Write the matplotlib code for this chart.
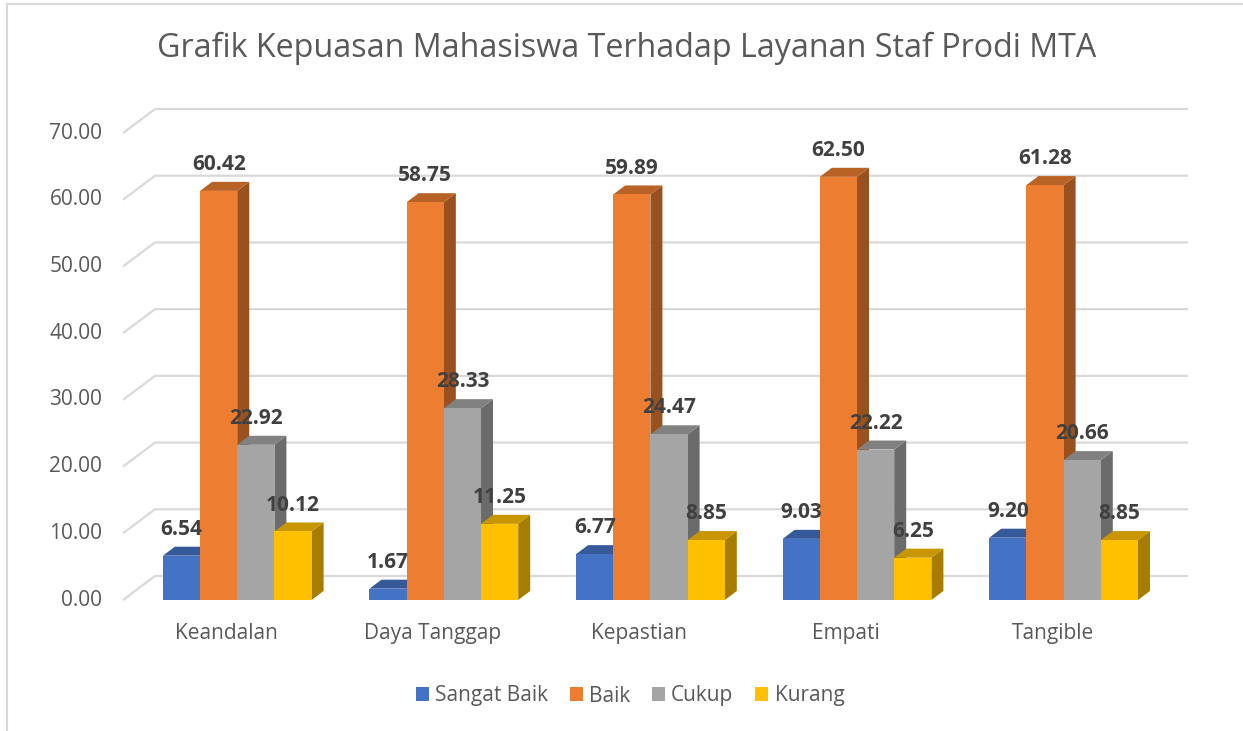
import matplotlib.pyplot as plt
from matplotlib.patches import Polygon, Patch
from matplotlib.colors import to_rgb

plt.rcParams['font.family'] = ['Open Sans', 'DejaVu Sans']

categories = ['Keandalan', 'Daya Tanggap', 'Kepastian', 'Empati', 'Tangible']
series = ['Sangat Baik', 'Baik', 'Cukup', 'Kurang']
sangat_baik = [6.54, 1.67, 6.77, 9.03, 9.20]
baik = [60.42, 58.75, 59.89, 62.50, 61.28]
cukup = [22.92, 28.33, 24.47, 22.22, 20.66]
kurang = [10.12, 11.25, 8.85, 6.25, 8.85]
yticks = [0, 10, 20, 30, 40, 50, 60, 70]

colors = ['#4472C4', '#ED7D31', '#A5A5A5', '#FFC000']
values = [sangat_baik, baik, cukup, kurang]

W, H = 1243, 731
fig = plt.figure(figsize=(W / 100, H / 100), dpi=100)

# depth of the floor / back wall and of each bar (in data units)
floor_dx, floor_dy = 0.155, 3.6
bar_dx, bar_dy = 0.058, 1.35
bar_w = 0.18
group_shift = 0.053
persp = 1.015  # bars sit a bit nearer the viewer than the gridlines

xmin, xmax = -0.5, len(categories) - 0.5 + floor_dx
ymin, ymax = 0, 70 + floor_dy
left_px, right_px, bottom_px, top_px = 123, 1188, 600, 109
ax = fig.add_axes([left_px / W, 1 - bottom_px / H,
                   (right_px - left_px) / W, (bottom_px - top_px) / H])
ax.set_xlim(xmin, xmax)
ax.set_ylim(ymin, ymax)
ax.axis('off')

grid_c = '#D9D9D9'
for v in yticks:
    ax.plot([xmin, xmin + floor_dx, xmax], [v, v + floor_dy, v + floor_dy],
            color=grid_c, lw=1.6, zorder=1, clip_on=False, solid_capstyle='butt')
    ax.text(-0.6, v, '{:.2f}'.format(v), ha='right', va='center',
            fontsize=15, color='#595959')


def shade(c, f):
    r, g, b = to_rgb(c)
    return (r * f, g * f, b * f)


z = 2
for i, cat in enumerate(categories):
    x0 = i + group_shift - 2 * bar_w
    for j in range(len(series)):
        v = values[j][i]
        h = v * persp
        xl = x0 + j * bar_w
        xr = xl + bar_w
        top = [(xl, h), (xl + bar_dx, h + bar_dy), (xr + bar_dx, h + bar_dy), (xr, h)]
        side = [(xr, 0), (xr, h), (xr + bar_dx, h + bar_dy), (xr + bar_dx, bar_dy)]
        front = [(xl, 0), (xl, h), (xr, h), (xr, 0)]
        ax.add_patch(Polygon(side, closed=True, fc=shade(colors[j], 0.65), ec='none', zorder=z))
        ax.add_patch(Polygon(top, closed=True, fc=shade(colors[j], 0.78), ec='none', zorder=z))
        ax.add_patch(Polygon(front, closed=True, fc=colors[j], ec='none', zorder=z + 0.5))
        z += 1
        ax.annotate('{:.2f}'.format(v), (xl + bar_w / 2, h + bar_dy),
                    xytext=(0, 5), textcoords='offset points', ha='center', va='bottom',
                    fontsize=15, fontweight='bold', color='#404040', zorder=100)
    ax.text(i, -3.5, cat, ha='center', va='top', fontsize=15, color='#595959')

fig.text(627 / W, 1 - 48 / H, 'Grafik Kepuasan Mahasiswa Terhadap Layanan Staf Prodi MTA',
         ha='center', va='center', fontsize=23.2, color='#595959')

handles = [Patch(fc=c, ec='none') for c in colors]
fig.legend(handles, series, loc='center', bbox_to_anchor=(630 / W, 1 - 696 / H),
           ncol=4, frameon=False, fontsize=15, labelcolor='#595959',
           handlelength=0.62, handleheight=0.62, handletextpad=0.3, columnspacing=1.05)

# chart border (left and top edges visible)
fig.add_artist(plt.Line2D([7 / W, 7 / W], [0, 1 - 4 / H], color='#D9D9D9', lw=1.5))
fig.add_artist(plt.Line2D([7 / W, 1], [1 - 4 / H, 1 - 4 / H], color='#D9D9D9', lw=1.5))

fig.savefig('out.png', dpi=100)
